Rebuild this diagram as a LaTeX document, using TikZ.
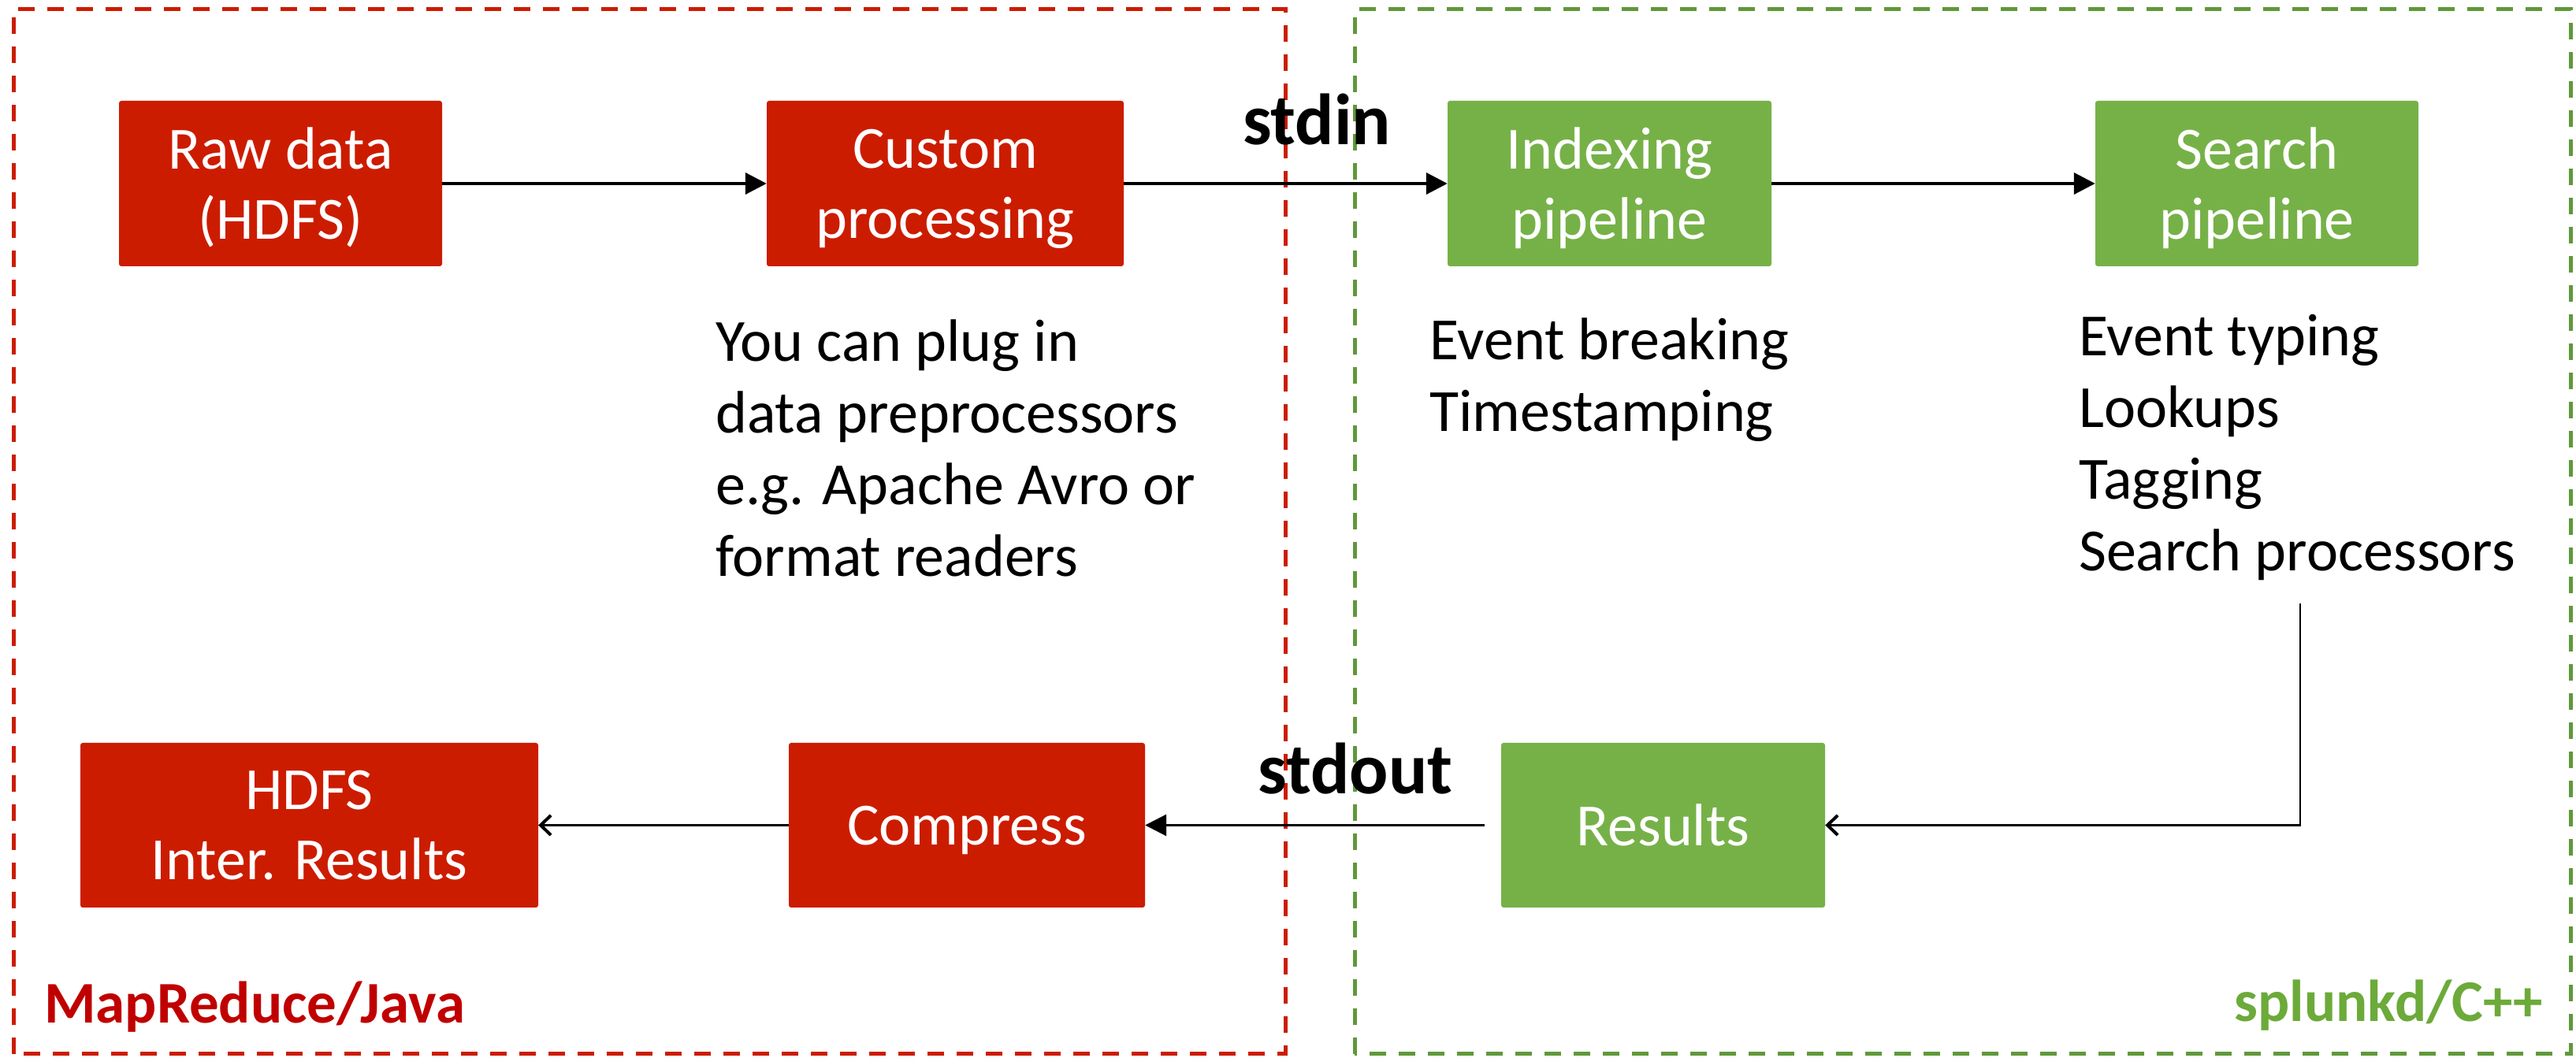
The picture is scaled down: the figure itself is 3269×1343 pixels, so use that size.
\documentclass[tikz,border=0pt]{standalone}
\usepackage{fontspec}
\setmainfont{Carlito}
\usetikzlibrary{arrows.meta, positioning, calc}
\definecolor{mrred}{RGB}{204,28,0}
\definecolor{mrtext}{RGB}{192,0,0}
\definecolor{spgreen}{RGB}{118,177,72}
\definecolor{spdash}{RGB}{96,152,58}
\definecolor{sptext}{RGB}{108,170,58}

\begin{document}
\begin{tikzpicture}[x=1pt, y=1pt,
    redbox/.style={fill=mrred, rounded corners=3pt, text=white, align=center, inner sep=0pt, text depth=0pt, font=\fontsize{76}{89}\selectfont},
    greenbox/.style={redbox, fill=spgreen},
    note/.style={anchor=base west, align=left, inner sep=0pt, font=\fontsize{76}{91}\selectfont},
    pipe/.style={anchor=base, inner sep=0pt, font=\bfseries\fontsize{92}{100}\selectfont},
    side/.style={inner sep=0pt, font=\bfseries\fontsize{75}{90}\selectfont},
    bigarrow/.style={line width=4pt, -{Triangle[length=27pt, width=27pt]}},
    smallarrow/.style={line width=2.5pt, -{Straight Barb[length=13pt, width=25pt, line width=4pt]}},
    frame/.style={line width=5pt, dash pattern=on 21pt off 16pt}]
  \useasboundingbox (0,0) rectangle (3269,1343);

  \draw[frame, mrred] (17,5) rectangle (1631,1331);
  \draw[frame, spdash] (1719,5) rectangle (3262,1331);

  \node[redbox, minimum width=410, minimum height=210] (raw) at (356,1110) {Raw data\\(HDFS)};
  \node[redbox, minimum width=453, minimum height=210] (custom) at (1199.5,1110) {Custom\\processing};
  \node[greenbox, minimum width=411, minimum height=210] (index) at (2042.5,1110) {Indexing\\pipeline};
  \node[greenbox, minimum width=410, minimum height=210] (search) at (2864,1110) {Search\\pipeline};

  \node[redbox, minimum width=581, minimum height=209] (hdfs) at (392.5,295.5) {HDFS\\Inter. Results};
  \node[redbox, minimum width=452, minimum height=209] (compress) at (1227,295.5) {Compress};
  \node[greenbox, minimum width=411, minimum height=209] (results) at (2110.5,295.5) {Results};

  % base anchor sits on the last line
  \node[note] (plugnote) at (908,611) {You can plug in\\data preprocessors\\e.g. Apache Avro or\\format readers};
  \node[note] (indexnote) at (1814,795) {Event breaking\\Timestamping};
  \node[note] (searchnote) at (2638,618) {Event typing\\Lookups\\Tagging\\Search processors};

  \node[pipe] (stdin) at (1671,1159) {stdin};
  \node[pipe] (stdout) at (1720,335) {stdout};

  \node[side, text=mrtext, anchor=base west] (mrlabel) at (56,44) {MapReduce/Java};
  \node[side, text=sptext, anchor=base east] (splabel) at (3227,46) {splunkd/C++};

  \coordinate (procs) at (2919,577);

  \draw[bigarrow] (raw) -- (custom);
  \draw[bigarrow] (custom) -- (index);
  \draw[bigarrow] (index) -- (search);
  \draw[smallarrow] (procs) |- (results.east);
  \draw[bigarrow, line width=3pt] ([xshift=-21pt]results.west) -- (compress);
  \draw[smallarrow] (compress) -- (hdfs);
\end{tikzpicture}
\end{document}
